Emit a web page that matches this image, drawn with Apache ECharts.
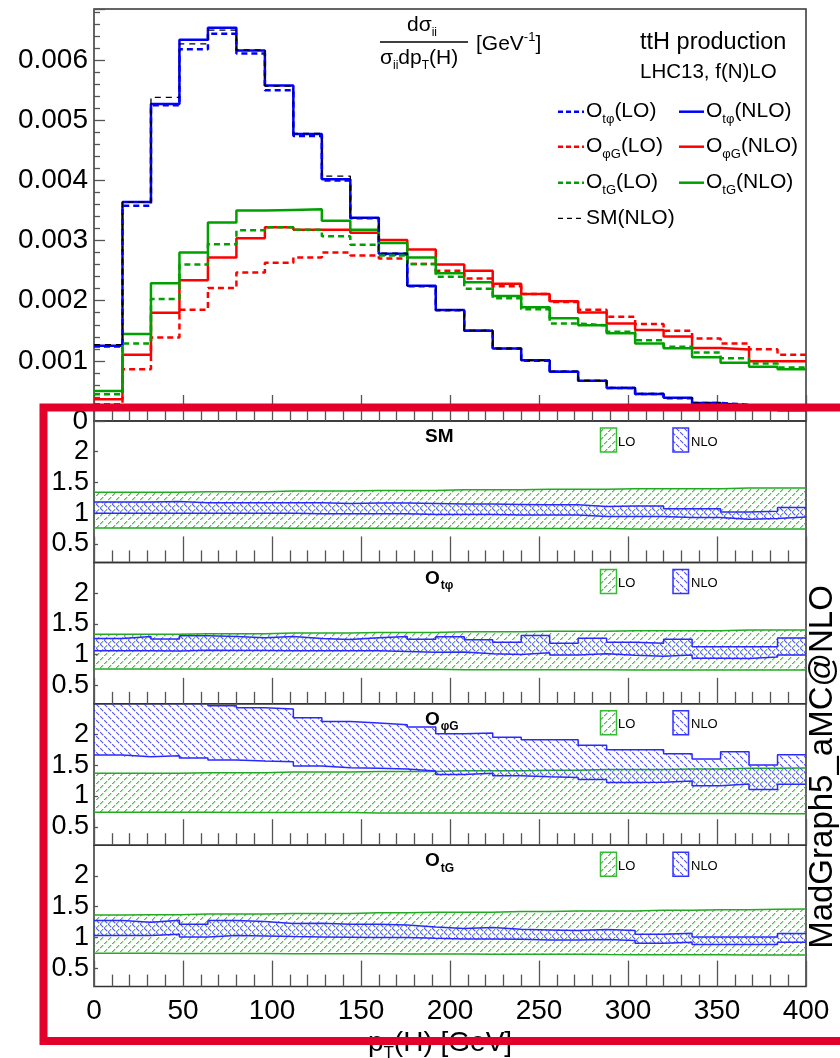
<!DOCTYPE html>
<html>
<head>
<meta charset="utf-8">
<script src="https://cdn.jsdelivr.net/npm/echarts@6/dist/echarts.min.js"></script>
<style>
  html, body { margin: 0; padding: 0; background: #fff; }
  #chart { width: 840px; height: 1058px; }
</style>
</head>
<body>
<div id="chart"></div>
<script>
 // bin edges of p_T(H) [GeV]
 var binEdges = [0,16,32,48,64,80,96,112,128,144,160,176,192,208,224,240,256,272,288,304,320,336,352,368,384,400];
 var ratioTicks = [0.5,1,1.5,2];

 // top panel, normalised distributions, in units of 1e-3 GeV^-1
 var yUnit = 1e-3;
 var otpLO  = [1.24,3.58,5.25,6.18,6.44,6.11,5.50,4.74,4.00,3.37,2.77,2.24,1.84,1.50,1.20,1.00,0.82,0.67,0.55,0.45,0.38,0.30,0.27,0.23,0.19];
 var otpNLO = [1.25,3.64,5.27,6.34,6.54,6.16,5.58,4.77,4.02,3.38,2.78,2.25,1.845,1.50,1.205,1.01,0.82,0.67,0.55,0.45,0.385,0.30,0.26,0.22,0.18];
 var opgLO  = [0.28,0.86,1.39,1.85,2.21,2.47,2.63,2.72,2.80,2.75,2.70,2.61,2.50,2.37,2.24,2.11,1.98,1.85,1.733,1.611,1.50,1.372,1.289,1.194,1.10];
 var opgNLO = [0.36,1.10,1.80,2.34,2.72,3.04,3.22,3.18,3.18,3.13,3.01,2.85,2.60,2.50,2.28,2.11,1.99,1.806,1.622,1.511,1.406,1.215,1.19,0.995,0.995];
 var otgLO  = [0.445,1.29,2.03,2.60,2.94,3.17,3.22,3.18,3.07,2.93,2.75,2.61,2.40,2.20,2.04,1.86,1.62,1.59,1.483,1.344,1.233,1.139,1.044,0.956,0.889];
 var otgNLO = [0.50,1.445,2.29,2.80,3.30,3.50,3.51,3.52,3.33,3.18,2.96,2.72,2.455,2.305,2.08,1.89,1.71,1.594,1.461,1.289,1.211,1.06,0.967,0.90,0.861];
 var smNLO  = [1.27,3.64,5.38,6.27,6.50,6.17,5.57,4.78,4.07,3.38,2.79,2.25,1.85,1.51,1.21,1.01,0.83,0.67,0.56,0.46,0.39,0.30,0.27,0.23,0.19];

 // ratio panels: scale uncertainty bands (upper / lower edge per bin)
 var smLOup   = [1.34,1.34,1.34,1.35,1.35,1.35,1.36,1.36,1.36,1.37,1.37,1.37,1.38,1.38,1.38,1.39,1.39,1.39,1.40,1.40,1.40,1.40,1.41,1.41,1.41];
 var smLOdn   = [0.76,0.76,0.76,0.76,0.76,0.76,0.755,0.755,0.755,0.755,0.755,0.755,0.75,0.75,0.75,0.75,0.75,0.75,0.745,0.745,0.745,0.745,0.745,0.745,0.745];
 var smNLOup  = [1.181,1.181,1.191,1.17,1.17,1.17,1.17,1.17,1.159,1.165,1.165,1.159,1.148,1.148,1.143,1.138,1.138,1.11,1.116,1.116,1.073,1.073,1.019,1.03,1.094];
 var smNLOdn  = [1.0,1.0,1.0,1.0,1.0,1.0,1.0,0.99,0.99,0.99,0.99,0.98,0.98,0.98,0.97,0.97,0.97,0.945,0.945,0.945,0.93,0.93,0.90,0.915,0.94];

 var otpLOup  = [1.33,1.33,1.33,1.34,1.34,1.34,1.35,1.35,1.35,1.36,1.36,1.36,1.37,1.37,1.37,1.38,1.38,1.38,1.39,1.39,1.39,1.39,1.40,1.40,1.40];
 var otpLOdn  = [0.765,0.765,0.765,0.765,0.765,0.765,0.76,0.76,0.76,0.76,0.76,0.76,0.755,0.755,0.755,0.755,0.755,0.755,0.75,0.75,0.75,0.75,0.75,0.75,0.75];
 var otpNLOup = [1.263,1.295,1.252,1.306,1.295,1.274,1.295,1.263,1.247,1.274,1.295,1.25,1.29,1.24,1.20,1.31,1.183,1.265,1.20,1.185,1.248,1.128,1.128,1.128,1.27];
 var otpNLOdn = [1.062,1.062,1.057,1.073,1.068,1.068,1.062,1.062,1.062,1.062,1.052,1.038,1.041,1.014,1.003,1.03,0.992,1.014,0.99,0.975,0.993,0.942,0.938,0.96,0.993];

 var opgLOup  = [1.37,1.37,1.37,1.38,1.38,1.38,1.39,1.39,1.39,1.40,1.40,1.40,1.41,1.41,1.41,1.42,1.42,1.43,1.43,1.43,1.44,1.44,1.45,1.45,1.455];
 var opgLOdn  = [0.735,0.735,0.735,0.735,0.73,0.73,0.73,0.73,0.73,0.725,0.725,0.725,0.725,0.725,0.72,0.72,0.72,0.72,0.72,0.715,0.715,0.715,0.715,0.712,0.712];
 var opgNLOup = [2.8,2.75,2.7,2.65,2.469,2.436,2.415,2.274,2.214,2.187,2.16,2.122,2.013,2.024,1.954,1.916,1.916,1.824,1.753,1.753,1.688,1.602,1.721,1.504,1.672];
 var opgNLOdn = [1.667,1.64,1.656,1.618,1.585,1.569,1.558,1.488,1.46,1.45,1.439,1.407,1.352,1.369,1.33,1.314,1.303,1.27,1.22,1.223,1.244,1.168,1.195,1.108,1.19];

 var otgLOup  = [1.366,1.37,1.37,1.38,1.38,1.38,1.39,1.39,1.39,1.40,1.40,1.41,1.41,1.41,1.42,1.42,1.43,1.43,1.43,1.44,1.44,1.45,1.45,1.46,1.463];
 var otgLOdn  = [0.743,0.743,0.74,0.74,0.74,0.738,0.735,0.735,0.735,0.733,0.73,0.73,0.73,0.728,0.725,0.725,0.725,0.722,0.72,0.72,0.72,0.718,0.715,0.715,0.715];
 var otgNLOup = [1.274,1.247,1.279,1.214,1.274,1.257,1.225,1.23,1.214,1.214,1.203,1.171,1.144,1.16,1.133,1.122,1.111,1.127,1.111,1.052,1.068,1.008,1.008,1.008,1.062];
 var otgNLOdn = [1.03,1.03,1.052,1.008,1.03,1.024,1.014,1.008,1.003,0.997,0.997,0.986,0.976,0.976,0.97,0.959,0.959,0.965,0.948,0.905,0.921,0.883,0.883,0.883,0.921];

 var FONT = "'Liberation Sans', Arial, Helvetica, sans-serif";
 var BLUE = '#0000ff', RED = '#ff0000', GREEN = '#00a000';
 var panelTop = [421, 562.4, 703.8, 845.2];
 var panelH = 141.4;

 function stepData(vals, scale) {
   return binEdges.map(function (e, i) {
     return [e, vals[Math.min(i, vals.length - 1)] * scale];
   });
 }
 // one row per bin: [lowEdge, highEdge, down, up]
 function bandData(dn, up) {
   return dn.map(function (v, i) { return [binEdges[i], binEdges[i + 1], v, up[i]]; });
 }

 // hatch patterns
 function makeHatch(color, back) {
   var c = document.createElement('canvas');
   c.width = 8; c.height = 8;
   var ctx = c.getContext('2d');
   ctx.fillStyle = color;
   [0, 1, 2, 4, 5, 6].forEach(function (i) {
     var y = back ? i : 7 - i;
     ctx.fillRect(i, y, 1.3, 1.3);
   });
   return { image: c, repeat: 'repeat' };
 }
 var greenHatch = makeHatch('rgba(20,170,20,0.75)', false);
 var blueHatch = makeHatch('rgba(40,40,255,0.75)', true);

 function bandRenderer(fill) {
   return function (params, api) {
     var p0 = api.coord([api.value(0), api.value(3)]);
     var p1 = api.coord([api.value(1), api.value(2)]);
     var rect = echarts.graphic.clipRectByRect(
       { x: p0[0], y: p0[1], width: p1[0] - p0[0], height: p1[1] - p0[1] },
       { x: params.coordSys.x, y: params.coordSys.y, width: params.coordSys.width, height: params.coordSys.height }
     );
     if (!rect) return null;
     return { type: 'rect', shape: rect, style: { fill: fill } };
   };
 }

 var grids = [], xAxes = [], yAxes = [], series = [], graphics = [];

 // top panel
 grids.push({ left: 94, top: 9, width: 712, height: 412, show: true, borderColor: '#333', borderWidth: 1.5 });
 xAxes.push({
   gridIndex: 0, type: 'value', min: 0, max: 400, interval: 50,
   axisLine: { show: false }, splitLine: { show: false }, axisLabel: { show: false },
   axisTick: { inside: true, length: 26, lineStyle: { color: '#555', width: 1.3 } },
   minorTick: { show: true, splitNumber: 5, length: 12, lineStyle: { color: '#555', width: 1.3 } }
 });
 yAxes.push({
   gridIndex: 0, type: 'value', min: 0, max: 0.00685, interval: 0.001,
   axisLine: { show: false }, splitLine: { show: false },
   axisTick: { inside: true, length: 11, lineStyle: { color: '#555', width: 1.3 } },
   minorTick: { show: true, splitNumber: 5, length: 6, lineStyle: { color: '#555', width: 1.3 } },
   axisLabel: {
     showMaxLabel: false, margin: 6, fontSize: 28, fontFamily: FONT, color: '#000',
     formatter: function (v) { return v === 0 ? '0' : v.toFixed(3); }
   }
 });

 var topSeries = [
   { name: 'O_tphi(NLO)', vals: otpNLO, color: BLUE, dash: 'solid', w: 2.5 },
   { name: 'O_phiG(NLO)', vals: opgNLO, color: RED, dash: 'solid', w: 2.5 },
   { name: 'O_tG(NLO)', vals: otgNLO, color: GREEN, dash: 'solid', w: 2.5 },
   { name: 'O_tphi(LO)', vals: otpLO, color: BLUE, dash: [6, 4], w: 2.5 },
   { name: 'O_phiG(LO)', vals: opgLO, color: RED, dash: [6, 4], w: 2.5 },
   { name: 'O_tG(LO)', vals: otgLO, color: GREEN, dash: [6, 4], w: 2.5 },
   { name: 'SM(NLO)', vals: smNLO, color: '#000', dash: [6, 5], w: 1.3 }
 ];
 topSeries.forEach(function (s) {
   series.push({
     name: s.name, type: 'line', xAxisIndex: 0, yAxisIndex: 0, step: 'end',
     symbol: 'none', data: stepData(s.vals, yUnit),
     lineStyle: { color: s.color, width: s.w, type: s.dash }
   });
 });

 // ratio panels
 var panels = [
   { title: '{b|SM}', loUp: smLOup, loDn: smLOdn, nloUp: smNLOup, nloDn: smNLOdn },
   { title: '{b|O}{s|tφ}', loUp: otpLOup, loDn: otpLOdn, nloUp: otpNLOup, nloDn: otpNLOdn },
   { title: '{b|O}{s|φG}', loUp: opgLOup, loDn: opgLOdn, nloUp: opgNLOup, nloDn: opgNLOdn },
   { title: '{b|O}{s|tG}', loUp: otgLOup, loDn: otgLOdn, nloUp: otgNLOup, nloDn: otgNLOdn }
 ];
 panels.forEach(function (p, k) {
   var gi = k + 1;
   var last = k === panels.length - 1;
   grids.push({ left: 94, top: panelTop[k], width: 712, height: panelH, show: true, borderColor: '#333', borderWidth: 1.5 });
   xAxes.push({
     gridIndex: gi, type: 'value', min: 0, max: 400, interval: 50,
     axisLine: { show: false }, splitLine: { show: false },
     axisLabel: { show: last, margin: 11, fontSize: 28, fontFamily: FONT, color: '#000' },
     axisTick: { inside: true, length: 26, lineStyle: { color: '#555', width: 1.3 } },
     minorTick: { show: true, splitNumber: 5, length: 12, lineStyle: { color: '#555', width: 1.3 } }
   });
   yAxes.push({
     gridIndex: gi, type: 'value', min: 0.2, max: 2.5,
     axisLine: { show: false }, splitLine: { show: false },
     axisTick: { inside: true, length: 4, customValues: ratioTicks, lineStyle: { color: '#555', width: 1.3 } },
     axisLabel: { customValues: ratioTicks, margin: 5, fontSize: 27, fontFamily: FONT, color: '#000' }
   });
   // LO band
   series.push({
     type: 'custom', xAxisIndex: gi, yAxisIndex: gi, renderItem: bandRenderer(greenHatch),
     encode: { x: [0, 1], y: [2, 3] }, data: bandData(p.loDn, p.loUp), z: 2
   });
   [p.loDn, p.loUp].forEach(function (edge) {
     series.push({
       type: 'line', xAxisIndex: gi, yAxisIndex: gi, step: 'end', symbol: 'none', z: 3,
       data: stepData(edge, 1), lineStyle: { color: '#22aa22', width: 1.5 }
     });
   });
   // NLO band
   series.push({
     type: 'custom', xAxisIndex: gi, yAxisIndex: gi, renderItem: bandRenderer(blueHatch),
     encode: { x: [0, 1], y: [2, 3] }, data: bandData(p.nloDn, p.nloUp), z: 4
   });
   [p.nloDn, p.nloUp].forEach(function (edge) {
     series.push({
       type: 'line', xAxisIndex: gi, yAxisIndex: gi, step: 'end', symbol: 'none', z: 5, clip: true,
       data: stepData(edge, 1), lineStyle: { color: '#2a2aff', width: 1.5 }
     });
   });

   var T = panelTop[k];
   graphics.push({
     type: 'text', x: 425, y: T + 16, z: 50,
     style: {
       text: p.title, verticalAlign: 'middle', fill: '#000',
       rich: {
         b: { fontSize: 19, fontWeight: 'bold', fontFamily: FONT },
         s: { fontSize: 12, fontWeight: 'bold', fontFamily: FONT, padding: [14, 0, 0, 1] }
       }
     }
   });
   graphics.push({ type: 'rect', z: 50, shape: { x: 600.5, y: T + 7, width: 16, height: 24 },
     style: { fill: greenHatch, stroke: '#33bb33', lineWidth: 1.5 } });
   graphics.push({ type: 'text', z: 50, x: 618, y: T + 21,
     style: { text: 'LO', fontSize: 13, fontFamily: FONT, fill: '#000', verticalAlign: 'middle' } });
   graphics.push({ type: 'rect', z: 50, shape: { x: 673, y: T + 7, width: 15.5, height: 24 },
     style: { fill: blueHatch, stroke: '#3333ff', lineWidth: 1.5 } });
   graphics.push({ type: 'text', z: 50, x: 691, y: T + 21,
     style: { text: 'NLO', fontSize: 13, fontFamily: FONT, fill: '#000', verticalAlign: 'middle' } });
 });

 // top panel legend
 var legendRows = [
   { y: 111.7, left: '{a|O}{s|tφ}{a|(LO)}', right: '{a|O}{s|tφ}{a|(NLO)}', color: BLUE },
   { y: 146.7, left: '{a|O}{s|φG}{a|(LO)}', right: '{a|O}{s|φG}{a|(NLO)}', color: RED },
   { y: 182.7, left: '{a|O}{s|tG}{a|(LO)}', right: '{a|O}{s|tG}{a|(NLO)}', color: GREEN },
   { y: 218.3, left: '{a|SM(NLO)}', right: null, color: '#000' }
 ];
 var legRich = {
   a: { fontSize: 21, fontFamily: FONT },
   s: { fontSize: 13, fontFamily: FONT, padding: [16, 0, 0, 0] }
 };
 legendRows.forEach(function (r) {
   var black = r.right === null;
   graphics.push({ type: 'line', z: 50, shape: { x1: 558, y1: r.y, x2: 584, y2: r.y },
     style: { stroke: r.color, lineWidth: black ? 1.3 : 2.5, lineDash: black ? [5, 4] : [5, 3] } });
   graphics.push({ type: 'text', z: 50, x: 586, y: r.y,
     style: { text: r.left, verticalAlign: 'middle', fill: '#000', rich: legRich } });
   if (!black) {
     graphics.push({ type: 'line', z: 50, shape: { x1: 679, y1: r.y, x2: 704, y2: r.y },
       style: { stroke: r.color, lineWidth: 2.5 } });
     graphics.push({ type: 'text', z: 50, x: 706, y: r.y,
       style: { text: r.right, verticalAlign: 'middle', fill: '#000', rich: legRich } });
   }
 });

 // titles and axis names
 graphics.push({ type: 'text', z: 50, x: 640, y: 43,
   style: { text: 'ttH production', fontSize: 23.5, fontFamily: FONT, fill: '#000', verticalAlign: 'middle' } });
 graphics.push({ type: 'text', z: 50, x: 640, y: 72,
   style: { text: 'LHC13, f(N)LO', fontSize: 20.5, fontFamily: FONT, fill: '#000', verticalAlign: 'middle' } });
 var fracRich = {
   a: { fontSize: 21, fontFamily: FONT },
   s: { fontSize: 12, fontFamily: FONT, padding: [16, 0, 0, 0] },
   u: { fontSize: 13, fontFamily: FONT, padding: [0, 0, 14, 0] }
 };
 graphics.push({ type: 'text', z: 50, x: 407, y: 25,
   style: { text: '{a|dσ}{s|ii}', verticalAlign: 'middle', fill: '#000', rich: fracRich } });
 graphics.push({ type: 'line', z: 50, shape: { x1: 380, y1: 42, x2: 468, y2: 42 },
   style: { stroke: '#000', lineWidth: 1.3 } });
 graphics.push({ type: 'text', z: 50, x: 380, y: 58,
   style: { text: '{a|σ}{s|ii}{a|dp}{s|T}{a|(H)}', verticalAlign: 'middle', fill: '#000', rich: fracRich } });
 graphics.push({ type: 'text', z: 50, x: 476, y: 44,
   style: { text: '{a|[GeV}{u|-1}{a|]}', verticalAlign: 'middle', fill: '#000', rich: fracRich } });

 graphics.push({ type: 'text', z: 50, x: 823, y: 767, rotation: Math.PI / 2,
   style: { text: 'MadGraph5_aMC@NLO', fontSize: 33, fontFamily: FONT, fill: '#000', align: 'center', verticalAlign: 'middle' } });

 graphics.push({ type: 'text', z: 50, x: 440, y: 1043,
   style: {
     text: '{a|p}{s|T}{a|(H) [GeV]}', align: 'center', verticalAlign: 'middle', fill: '#000',
     rich: { a: { fontSize: 28, fontFamily: FONT }, s: { fontSize: 17, fontFamily: FONT, padding: [20, 0, 0, 0] } }
   }
 });

 // red frame drawn over the lower part
 graphics.push({ type: 'rect', z: 100, shape: { x: 43.5, y: 407.5, width: 830, height: 633.5 },
   style: { fill: 'none', stroke: '#e3002b', lineWidth: 8 } });

 var option = {
   animation: false,
   backgroundColor: '#fff',
   grid: grids,
   xAxis: xAxes,
   yAxis: yAxes,
   series: series,
   graphic: { elements: graphics }
 };

 var myChart = echarts.init(document.getElementById('chart'));
 myChart.setOption(option);
</script>
</body>
</html>
